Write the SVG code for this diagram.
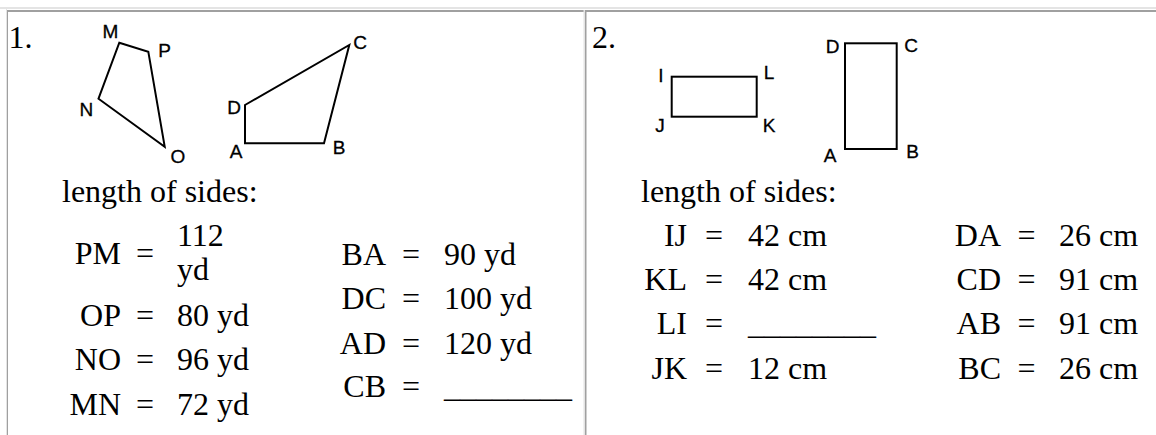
<svg xmlns="http://www.w3.org/2000/svg" width="1156" height="435" viewBox="0 0 1156 435">
<style>
.t{font-family:"Liberation Serif","Times New Roman",serif;font-size:32px;fill:#000}
.e{text-anchor:end}
.m{text-anchor:middle}
.lb{font-family:"Liberation Sans",Arial,sans-serif;font-size:19px;fill:#000;stroke:#000;stroke-width:0.3;text-anchor:middle}
.shape{fill:none;stroke:#000;stroke-width:2;stroke-linejoin:miter}
.light{fill:#e4e4e4}
.dark{fill:#a0a0a0}
</style>
<rect width="1156" height="435" fill="#fff"/>
<g id="table-borders">
<rect class="light" x="0" y="7" width="1156" height="2"/>
<rect class="light" x="6" y="9" width="1" height="426"/>
<rect class="dark" x="7" y="10" width="1149" height="2"/>
<rect class="dark" x="7" y="10" width="1" height="425"/>
<rect class="light" x="583.5" y="10" width="1.5" height="425"/>
<rect class="dark" x="585" y="10" width="1.5" height="425"/>
</g>
<g id="problem1">
<text class="t" x="8.5" y="48">1.</text>
<g id="quad-MNOP">
<polygon class="shape" points="119.3,42.7 148.3,51.7 164.7,146.7 98.5,98.7"/>
<text class="lb" x="110.5" y="37.5">M</text>
<text class="lb" x="164.5" y="56.5">P</text>
<text class="lb" x="86.3" y="116">N</text>
<text class="lb" x="178" y="163">O</text>
</g>
<g id="quad-ABCD-1">
<polygon class="shape" points="245,105 349.3,45 324,143.3 245,143.3"/>
<text class="lb" x="360" y="48.5">C</text>
<text class="lb" x="234" y="113.5">D</text>
<text class="lb" x="236" y="157.5">A</text>
<text class="lb" x="339" y="153.5">B</text>
</g>
<text class="t" x="62" y="202">length of sides:</text>
<g id="sides-1a">
<text class="t e" x="121" y="264">PM</text><text class="t m" x="145" y="264">=</text><text class="t" x="177" y="246">112</text><text class="t" x="177" y="280">yd</text>
<text class="t e" x="121" y="326">OP</text><text class="t m" x="145" y="326">=</text><text class="t" x="177" y="326">80 yd</text>
<text class="t e" x="121" y="370">NO</text><text class="t m" x="145" y="370">=</text><text class="t" x="177" y="370">96 yd</text>
<text class="t e" x="121" y="415">MN</text><text class="t m" x="145" y="415">=</text><text class="t" x="177" y="415">72 yd</text>
</g>
<g id="sides-1b">
<text class="t e" x="386" y="265">BA</text><text class="t m" x="411" y="265">=</text><text class="t" x="444" y="265">90 yd</text>
<text class="t e" x="386" y="309">DC</text><text class="t m" x="411" y="309">=</text><text class="t" x="444" y="309">100 yd</text>
<text class="t e" x="386" y="354">AD</text><text class="t m" x="411" y="354">=</text><text class="t" x="444" y="354">120 yd</text>
<text class="t e" x="386" y="397">CB</text><text class="t m" x="411" y="397">=</text><text class="t" x="444" y="397">________</text>
</g>
</g>
<g id="problem2">
<text class="t" x="592" y="48">2.</text>
<g id="rect-IJKL">
<rect class="shape" x="671.7" y="76.7" width="85" height="40"/>
<text class="lb" x="661" y="82">I</text>
<text class="lb" x="769" y="79">L</text>
<text class="lb" x="660" y="132">J</text>
<text class="lb" x="769" y="132">K</text>
</g>
<g id="rect-ABCD-2">
<rect class="shape" x="845" y="43.3" width="51.7" height="105.7"/>
<text class="lb" x="832.5" y="53">D</text>
<text class="lb" x="911" y="52">C</text>
<text class="lb" x="830" y="162">A</text>
<text class="lb" x="912.5" y="158">B</text>
</g>
<text class="t" x="641" y="202">length of sides:</text>
<g id="sides-2a">
<text class="t e" x="687" y="246">IJ</text><text class="t m" x="714" y="246">=</text><text class="t" x="748" y="246">42 cm</text>
<text class="t e" x="687" y="290">KL</text><text class="t m" x="714" y="290">=</text><text class="t" x="748" y="290">42 cm</text>
<text class="t e" x="687" y="334">LI</text><text class="t m" x="714" y="334">=</text><text class="t" x="748" y="334">________</text>
<text class="t e" x="687" y="379">JK</text><text class="t m" x="714" y="379">=</text><text class="t" x="748" y="379">12 cm</text>
</g>
<g id="sides-2b">
<text class="t e" x="1001" y="246">DA</text><text class="t m" x="1026.5" y="246">=</text><text class="t" x="1059" y="246">26 cm</text>
<text class="t e" x="1001" y="290">CD</text><text class="t m" x="1026.5" y="290">=</text><text class="t" x="1059" y="290">91 cm</text>
<text class="t e" x="1001" y="334">AB</text><text class="t m" x="1026.5" y="334">=</text><text class="t" x="1059" y="334">91 cm</text>
<text class="t e" x="1001" y="379">BC</text><text class="t m" x="1026.5" y="379">=</text><text class="t" x="1059" y="379">26 cm</text>
</g>
</g>
</svg>
